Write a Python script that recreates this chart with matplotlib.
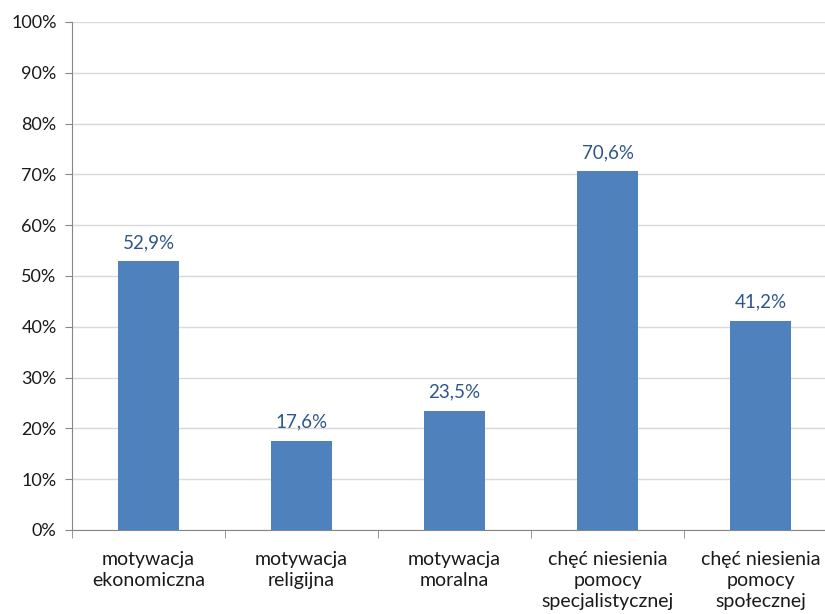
import matplotlib.pyplot as plt
from matplotlib.ticker import MultipleLocator, FixedLocator

kategorie = ["motywacja\nekonomiczna", "motywacja\nreligijna", "motywacja\nmoralna",
             "chęć niesienia\npomocy\nspecjalistycznej", "chęć niesienia\npomocy\nspołecznej"]
wartosci = [52.9, 17.6, 23.5, 70.6, 41.2]
etykiety = ["52,9%", "17,6%", "23,5%", "70,6%", "41,2%"]

plt.rcParams['font.family'] = ['Lato', 'DejaVu Sans']

fig = plt.figure(figsize=(8.25, 6.14), dpi=100)
ax = fig.add_axes([72 / 825, 84 / 614, 765 / 825, 508 / 614])

x = range(len(wartosci))
ax.bar(x, wartosci, width=0.4, color='#4F81BD', zorder=3)
for i, (v, t) in enumerate(zip(wartosci, etykiety)):
    ax.text(i, v + 3.7, t, ha='center', va='center', fontsize=13.5, color='#2F568C')

ax.set_xlim(-0.5, len(wartosci) - 0.5)
ax.set_ylim(0, 100)
ax.yaxis.set_major_locator(MultipleLocator(10))
ax.set_yticklabels([f"{int(v)}%" for v in ax.get_yticks()])
ax.grid(axis='y', color='#D9D9D9', linewidth=1, zorder=0)

ax.set_xticks(list(x))
ax.set_xticklabels(kategorie, fontsize=14, linespacing=1.3, va='top', color='#1A1A1A')
ax.tick_params(axis='x', length=0, pad=15)
ax.xaxis.set_minor_locator(FixedLocator([i - 0.5 for i in range(len(wartosci) + 1)]))
ax.tick_params(axis='x', which='minor', length=6, color='#868686', direction='out')
ax.tick_params(axis='y', length=5, color='#868686', labelsize=13, labelcolor='#1A1A1A', pad=6)

for s in ['top', 'right']:
    ax.spines[s].set_visible(False)
ax.spines['left'].set_color('#868686')
ax.spines['bottom'].set_color('#868686')

fig.savefig("out.png", dpi=100)
